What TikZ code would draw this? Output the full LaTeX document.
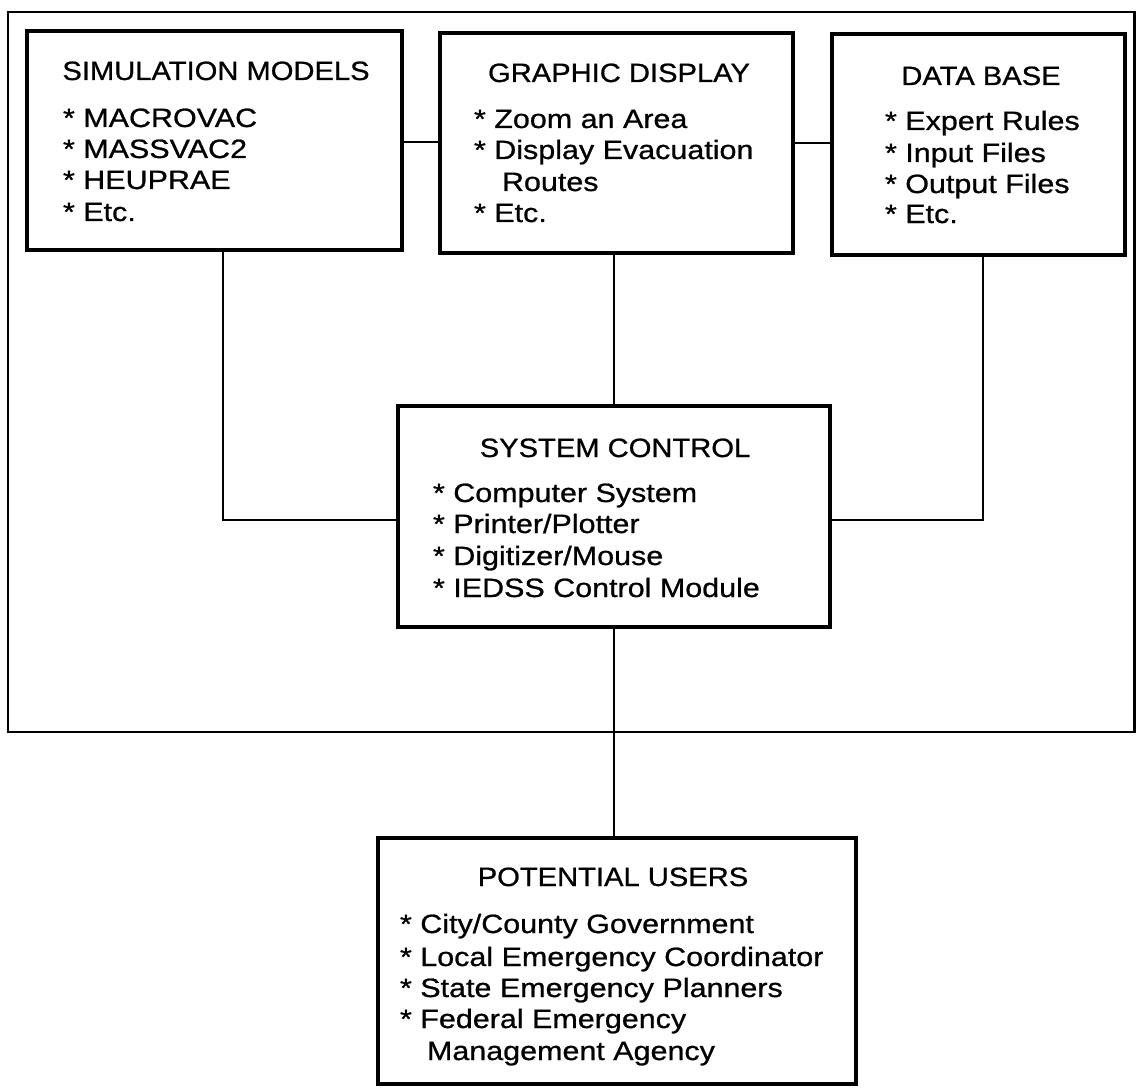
\documentclass[tikz,border=0pt]{standalone}
\usepackage{fontspec}
\setmainfont{Liberation Sans}[FakeStretch=1.1, FakeBold=0.8]
\newfontfamily\itemfont{Liberation Sans}[FakeStretch=1.15, FakeBold=0.8]
\begin{document}
\begin{tikzpicture}[x=1pt,y=-1pt,
  box/.style={draw, line width=3.6pt, inner sep=0pt, outer sep=0pt},
  outline/.style={draw, line width=2.8pt, inner sep=0pt, outer sep=0pt},
  wire/.style={line width=2.3pt},
  head/.style={inner sep=0pt, outer sep=0pt, anchor=base,
    font=\fontsize{26.5}{31}\selectfont},
  li/.style={inner sep=0pt, outer sep=0pt, anchor=base west,
    font=\itemfont\fontsize{26.5}{31}\selectfont}]
\useasboundingbox (0,0) rectangle (1136,1089);

% enclosing system frame
\node[outline, minimum width=1126.5pt, minimum height=720pt] (frame) at (571.25,372) {};

% module boxes
\node[box, minimum width=375pt, minimum height=219pt] (sm) at (214.5,140.5) {};
\node[box, minimum width=353pt, minimum height=220pt] (gd) at (616.5,143) {};
\node[box, minimum width=293pt, minimum height=221pt] (db) at (978.5,144.5) {};
\node[box, minimum width=432pt, minimum height=221pt] (sc) at (614,516.5) {};
\node[box, minimum width=478pt, minimum height=246pt] (us) at (617,961) {};

% connections between modules
\draw[wire] (sm.east |- 0,142) -- (gd.west |- 0,142);
\draw[wire] (gd.east |- 0,143) -- (db.west |- 0,143);
\draw[wire] (sm.south -| 223,0) |- (sc.west |- 0,520);
\draw[wire] (db.south -| 983,0) |- (sc.east |- 0,520);
\draw[wire] (gd.south -| sc.north) -- (sc.north);
\draw[wire] (sc.south) -- (sc.south |- us.north);

% SIMULATION MODELS
\node[head] (smt) at (216,80) {SIMULATION MODELS};
\node[li] (sm1) at (63,127) {* MACROVAC};
\node[li] (sm2) at (63,158) {* MASSVAC2};
\node[li] (sm3) at (63,189) {* HEUPRAE};
\node[li] (sm4) at (63,221) {* Etc.};

% GRAPHIC DISPLAY
\node[head] (gdt) at (619,82) {GRAPHIC DISPLAY};
\node[li] (gd1) at (474,128) {* Zoom an Area};
\node[li] (gd2) at (474,159) {* Display Evacuation};
\node[li] (gd3) at (502,191) {Routes};
\node[li] (gd4) at (474,222) {* Etc.};

% DATA BASE
\node[head] (dbt) at (981,85) {DATA BASE};
\node[li] (db1) at (885,130) {* Expert Rules};
\node[li] (db2) at (885,162) {* Input Files};
\node[li] (db3) at (885,193) {* Output Files};
\node[li] (db4) at (885,223) {* Etc.};

% SYSTEM CONTROL
\node[head] (sct) at (615,457) {SYSTEM CONTROL};
\node[li] (sc1) at (433,502) {* Computer System};
\node[li] (sc2) at (433,533) {* Printer/Plotter};
\node[li] (sc3) at (433,565) {* Digitizer/Mouse};
\node[li] (sc4) at (433,597) {* IEDSS Control Module};

% POTENTIAL USERS
\node[head] (ust) at (613,886) {POTENTIAL USERS};
\node[li] (us1) at (400,933) {* City/County Government};
\node[li] (us2) at (400,966) {* Local Emergency Coordinator};
\node[li] (us3) at (400,997) {* State Emergency Planners};
\node[li] (us4) at (400,1028) {* Federal Emergency};
\node[li] (us5) at (427,1060) {Management Agency};
\end{tikzpicture}
\end{document}
